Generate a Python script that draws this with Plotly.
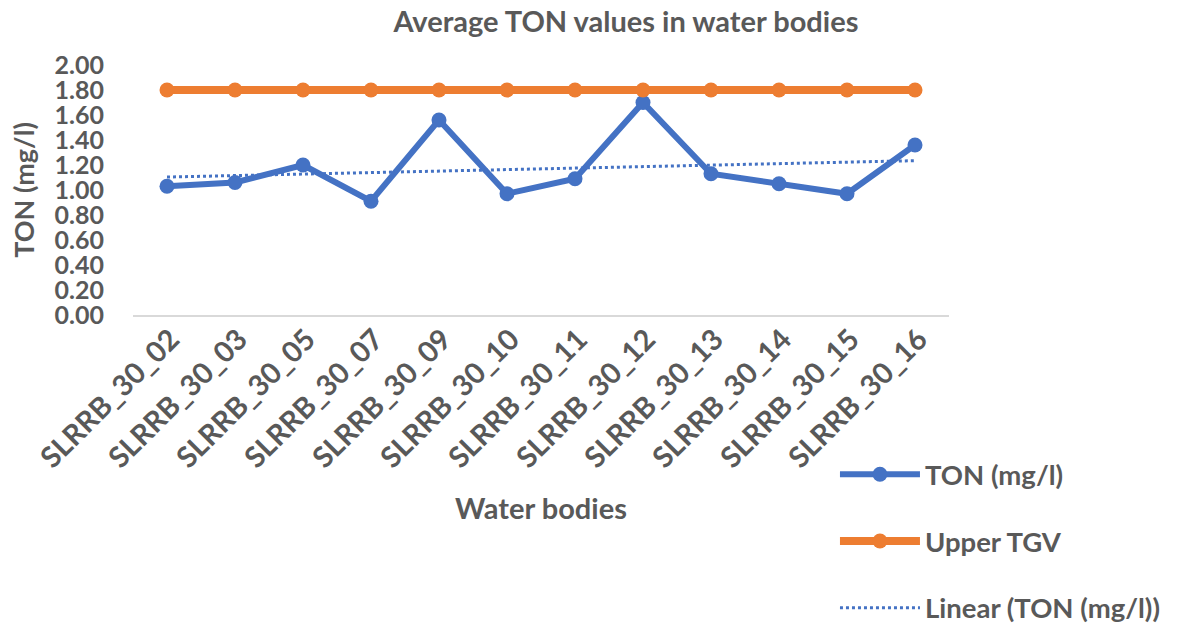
import numpy as np
import plotly.graph_objects as go

categories = ["SLRRB_30_02", "SLRRB_30_03", "SLRRB_30_05", "SLRRB_30_07", "SLRRB_30_09",
              "SLRRB_30_10", "SLRRB_30_11", "SLRRB_30_12", "SLRRB_30_13", "SLRRB_30_14",
              "SLRRB_30_15", "SLRRB_30_16"]
ton_values = [1.03, 1.06, 1.20, 0.91, 1.56, 0.97, 1.09, 1.70, 1.13, 1.05, 0.97, 1.36]
upper_tgv = [1.80] * len(categories)
y_ticks = [0.0, 0.2, 0.4, 0.6, 0.8, 1.0, 1.2, 1.4, 1.6, 1.8, 2.0]

# Excel-style linear trendline of the TON series
idx = np.arange(1, len(ton_values) + 1)
slope, intercept = np.polyfit(idx, ton_values, 1)
trend = list(slope * idx + intercept)

BLUE = "#4472C4"
ORANGE = "#ED7D31"
TEXT = "#595959"
FONT = "Lato"

fig = go.Figure()
fig.add_trace(go.Scatter(x=categories, y=ton_values, name="TON (mg/l)", mode="lines+markers",
                         line=dict(color=BLUE, width=6), marker=dict(size=15, color=BLUE),
                         legendgroup="a"))
fig.add_trace(go.Scatter(x=categories, y=upper_tgv, name="Upper TGV", mode="lines+markers",
                         line=dict(color=ORANGE, width=8), marker=dict(size=15, color=ORANGE),
                         legendgroup="b"))
fig.add_trace(go.Scatter(x=categories, y=trend, name="Linear (TON (mg/l))", mode="lines",
                         line=dict(color=BLUE, width=3, dash="dot"),
                         legendgroup="c"))

fig.update_layout(
    width=1181, height=623,
    paper_bgcolor="white", plot_bgcolor="white",
    margin=dict(l=133, r=232, t=65, b=308, autoexpand=False),
    title=dict(text="<b>Average TON values in water bodies</b>", x=0.53, xanchor="center",
               y=0.965, yanchor="middle",
               font=dict(family=FONT, size=29, color=TEXT)),
    font=dict(family=FONT, color=TEXT),
    xaxis=dict(
        type="category", range=[-0.5, 11.5],
        tickangle=-45, tickfont=dict(size=29, color=TEXT, family=FONT, weight="bold"),
        showgrid=False, showline=True, linecolor="#D9D9D9", linewidth=1.5,
        ticks="", automargin=False, ticklabelshift=4, ticklabelstandoff=-6,
        title=dict(text="<b>Water bodies</b>", font=dict(size=29, color=TEXT, family=FONT), standoff=26),
    ),
    yaxis=dict(
        range=[0, 2], tickvals=y_ticks, tickformat=".2f",
        tickfont=dict(size=25, color=TEXT, family=FONT, weight="bold"),
        showgrid=False, zeroline=False, showline=False, ticks="",
        ticklabelstandoff=28, automargin=False,
        title=dict(text="<b>TON (mg/l)</b>", font=dict(size=27, color=TEXT, family=FONT), standoff=12),
    ),
    legend=dict(
        xref="container", yref="container",
        x=0.707, xanchor="left", y=0.278, yanchor="top",
        font=dict(size=27.5, color=TEXT, family=FONT, weight="bold"),
        tracegroupgap=28, bgcolor="rgba(0,0,0,0)", itemwidth=80,
    ),
)

fig.write_html("out.html", config={"displayModeBar": False},
               post_script="document.body.style.margin='0';")
